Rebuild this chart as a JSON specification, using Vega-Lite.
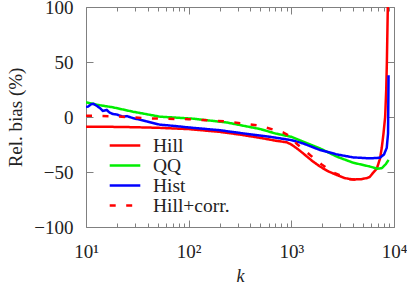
{
  "$schema": "https://vega.github.io/schema/vega-lite/v6.json",
  "width": 308,
  "height": 220,
  "autosize": "none",
  "padding": {"left": 86, "top": 7, "right": 13, "bottom": 58},
  "config": {
    "font": "Times New Roman, Liberation Serif, serif",
    "view": {"stroke": "#808080", "strokeWidth": 1},
    "axis": {"grid": false, "domain": false, "tickColor": "#808080", "labelColor": "#222", "titleColor": "#222", "labelFont": "Times New Roman, Liberation Serif, serif", "titleFont": "Times New Roman, Liberation Serif, serif", "labelFontSize": 19, "titleFontSize": 18, "titleFontWeight": "normal", "labelFlush": false, "labelOverlap": false}
  },
  "resolve": {"axis": {"x": "independent", "y": "independent"}},
  "layer": [
    {
      "data": {"values": [
        {"s":"Hill","k":10,"v":-8.8},{"s":"Hill","k":15,"v":-8.9},{"s":"Hill","k":20,"v":-9},{"s":"Hill","k":30,"v":-9.3},{"s":"Hill","k":50,"v":-9.8},{"s":"Hill","k":100,"v":-11},{"s":"Hill","k":200,"v":-13.5},{"s":"Hill","k":316,"v":-16},{"s":"Hill","k":500,"v":-19},{"s":"Hill","k":700,"v":-21.5},{"s":"Hill","k":900,"v":-23},{"s":"Hill","k":1000,"v":-25},{"s":"Hill","k":1150,"v":-29},{"s":"Hill","k":1300,"v":-33},{"s":"Hill","k":1600,"v":-40},{"s":"Hill","k":1900,"v":-45},{"s":"Hill","k":2300,"v":-49.5},{"s":"Hill","k":2770,"v":-52.7},{"s":"Hill","k":3300,"v":-55.5},{"s":"Hill","k":3980,"v":-56.8},{"s":"Hill","k":4800,"v":-56.5},{"s":"Hill","k":5450,"v":-55.5},{"s":"Hill","k":5800,"v":-54.5},{"s":"Hill","k":6220,"v":-51},{"s":"Hill","k":6800,"v":-47},{"s":"Hill","k":7300,"v":-38},{"s":"Hill","k":7600,"v":-28},{"s":"Hill","k":7900,"v":-15},{"s":"Hill","k":8200,"v":0},{"s":"Hill","k":8400,"v":25},{"s":"Hill","k":8520,"v":49},{"s":"Hill","k":8700,"v":99},{"s":"Hill","k":8800,"v":115},
        {"s":"QQ","k":10,"v":13.4},{"s":"QQ","k":13,"v":11},{"s":"QQ","k":18.3,"v":8.8},{"s":"QQ","k":28.7,"v":4.8},{"s":"QQ","k":52.5,"v":0.3},{"s":"QQ","k":110,"v":-1.5},{"s":"QQ","k":236,"v":-5},{"s":"QQ","k":500,"v":-11},{"s":"QQ","k":700,"v":-15},{"s":"QQ","k":1000,"v":-18},{"s":"QQ","k":1300,"v":-22.4},{"s":"QQ","k":1900,"v":-28.5},{"s":"QQ","k":2770,"v":-36},{"s":"QQ","k":3980,"v":-41.5},{"s":"QQ","k":5800,"v":-45},{"s":"QQ","k":6900,"v":-47},{"s":"QQ","k":7600,"v":-46.5},{"s":"QQ","k":8300,"v":-43},{"s":"QQ","k":8850,"v":-39},
        {"s":"Hist","k":10,"v":9},{"s":"Hist","k":10.5,"v":9.5},{"s":"Hist","k":11.2,"v":11.5},{"s":"Hist","k":11.8,"v":12},{"s":"Hist","k":12.8,"v":10},{"s":"Hist","k":13.7,"v":8},{"s":"Hist","k":14.6,"v":5.5},{"s":"Hist","k":15.9,"v":6.4},{"s":"Hist","k":17,"v":4},{"s":"Hist","k":18.3,"v":2.7},{"s":"Hist","k":20,"v":2.2},{"s":"Hist","k":22.9,"v":0.3},{"s":"Hist","k":25,"v":0.8},{"s":"Hist","k":28.7,"v":-1},{"s":"Hist","k":39,"v":-4},{"s":"Hist","k":52.5,"v":-7},{"s":"Hist","k":70,"v":-8},{"s":"Hist","k":100,"v":-9.5},{"s":"Hist","k":200,"v":-12},{"s":"Hist","k":316,"v":-14.5},{"s":"Hist","k":617,"v":-18},{"s":"Hist","k":1000,"v":-21},{"s":"Hist","k":1300,"v":-24},{"s":"Hist","k":1900,"v":-30},{"s":"Hist","k":2770,"v":-34},{"s":"Hist","k":3980,"v":-36.7},{"s":"Hist","k":5800,"v":-37.6},{"s":"Hist","k":7300,"v":-37},{"s":"Hist","k":8000,"v":-34},{"s":"Hist","k":8500,"v":-28},{"s":"Hist","k":8750,"v":-15},{"s":"Hist","k":8850,"v":38},
        {"s":"Hill+corr.","k":10,"v":1.2},{"s":"Hill+corr.","k":20,"v":0.5},{"s":"Hill+corr.","k":39,"v":-1.2},{"s":"Hill+corr.","k":100,"v":-2},{"s":"Hill+corr.","k":236,"v":-4},{"s":"Hill+corr.","k":494,"v":-8},{"s":"Hill+corr.","k":830,"v":-14},{"s":"Hill+corr.","k":1000,"v":-18},{"s":"Hill+corr.","k":1130,"v":-24.5},{"s":"Hill+corr.","k":1520,"v":-34.5},{"s":"Hill+corr.","k":1960,"v":-43},{"s":"Hill+corr.","k":2650,"v":-51},{"s":"Hill+corr.","k":3720,"v":-56.7},{"s":"Hill+corr.","k":4600,"v":-56.8}
      ]},
      "mark": {"type": "line", "strokeWidth": 2.5, "clip": true},
      "encoding": {
        "x": {"field": "k", "type": "quantitative", "scale": {"type": "log", "domain": [10, 10000], "nice": false},
              "axis": {"orient": "bottom", "values": [10, 100, 1000, 10000], "tickSize": -7, "labelPadding": 22,
                       "labelExpr": "datum.value == 10 ? '10¹' : datum.value == 100 ? '10²' : datum.value == 1000 ? '10³' : '10⁴'",
                       "title": "k", "titleFontStyle": "italic", "titlePadding": 6}},
        "y": {"field": "v", "type": "quantitative", "scale": {"domain": [-100, 100], "nice": false},
              "axis": {"orient": "left", "values": [-100, -50, 0, 50, 100], "tickSize": -7, "labelPadding": 20, "title": "Rel. bias (%)", "titlePadding": 8, "titleFontSize": 19}},
        "color": {"field": "s", "type": "nominal",
                  "scale": {"domain": ["Hill", "QQ", "Hist", "Hill+corr."], "range": ["#ff0000", "#00ee00", "#0000ff", "#ff0000"]},
                  "legend": {"title": null, "orient": "none", "legendX": 28.5, "legendY": 128, "symbolType": "M-1.7,0H1.7", "symbolSize": 324, "symbolStrokeWidth": 2.5, "symbolFillColor": "transparent", "labelFontSize": 19.5, "labelFont": "Times New Roman, Liberation Serif, serif", "labelColor": "#222", "labelOffset": 17.5, "rowPadding": 0, "padding": 0}},
        "strokeDash": {"field": "s", "type": "nominal",
                  "scale": {"domain": ["Hill", "QQ", "Hist", "Hill+corr."], "range": [[1, 0], [1, 0], [1, 0], [6, 10.5]]},
                  "legend": {"title": null, "orient": "none", "legendX": 28.5, "legendY": 128, "symbolType": "M-1.7,0H1.7", "symbolSize": 324, "symbolStrokeWidth": 2.5, "symbolFillColor": "transparent", "labelFontSize": 19.5, "labelFont": "Times New Roman, Liberation Serif, serif", "labelColor": "#222", "labelOffset": 17.5, "rowPadding": 0, "padding": 0}}
      }
    },
    {
      "data": {"values": [{"k": 10, "v": 0}]},
      "mark": {"type": "point", "opacity": 0},
      "encoding": {
        "x": {"field": "k", "type": "quantitative", "scale": {"type": "log", "domain": [10, 10000], "nice": false},
              "axis": {"orient": "bottom", "values": [20,30,40,50,60,70,80,90,200,300,400,500,600,700,800,900,2000,3000,4000,5000,6000,7000,8000,9000], "tickSize": -4, "labels": false, "title": null}},
        "y": {"field": "v", "type": "quantitative", "scale": {"domain": [-100, 100], "nice": false},
              "axis": {"orient": "right", "values": [-100, -50, 0, 50, 100], "tickSize": -7, "labels": false, "title": null}}
      }
    },
    {
      "data": {"values": [{"k": 10, "v": 0}]},
      "mark": {"type": "point", "opacity": 0},
      "encoding": {
        "x": {"field": "k", "type": "quantitative", "scale": {"type": "log", "domain": [10, 10000], "nice": false},
              "axis": {"orient": "top", "values": [10, 100, 1000, 10000], "tickSize": -7, "labels": false, "title": null}},
        "y": {"field": "v", "type": "quantitative", "scale": {"domain": [-100, 100], "nice": false}, "axis": null}
      }
    },
    {
      "data": {"values": [{"k": 10, "v": 0}]},
      "mark": {"type": "point", "opacity": 0},
      "encoding": {
        "x": {"field": "k", "type": "quantitative", "scale": {"type": "log", "domain": [10, 10000], "nice": false},
              "axis": {"orient": "top", "values": [20,30,40,50,60,70,80,90,200,300,400,500,600,700,800,900,2000,3000,4000,5000,6000,7000,8000,9000], "tickSize": -4, "labels": false, "title": null}},
        "y": {"field": "v", "type": "quantitative", "scale": {"domain": [-100, 100], "nice": false}, "axis": null}
      }
    }
  ]
}
